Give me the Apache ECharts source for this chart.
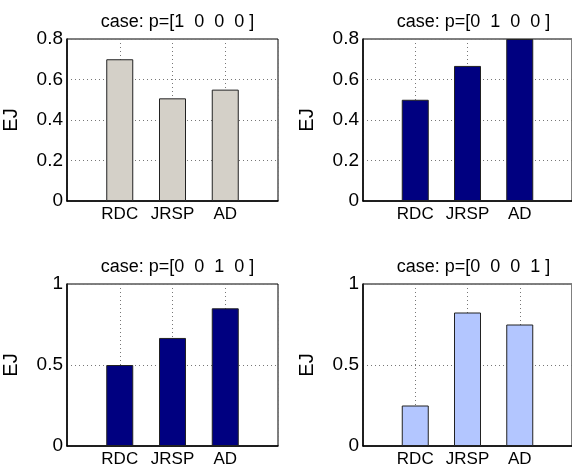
<!DOCTYPE html>
<html>
<head>
<meta charset="utf-8">
<title>EJ cases</title>
<script src="https://cdn.jsdelivr.net/npm/echarts@6/dist/echarts.min.js"></script>
<style>
  html, body { margin: 0; padding: 0; background: #fff; }
  #main { width: 572px; height: 472px; }
</style>
</head>
<body>
<div id="main"></div>
<script type="text/javascript">
// data
var categories = ['RDC', 'JRSP', 'AD'];
var caseTitles = ['case: p=[1  0  0  0 ]', 'case: p=[0  1  0  0 ]',
                  'case: p=[0  0  1  0 ]', 'case: p=[0  0  0  1 ]'];
var case1 = [0.70, 0.507, 0.55];
var case2 = [0.50, 0.667, 0.80];
var case3 = [0.50, 0.667, 0.85];
var case4 = [0.25, 0.824, 0.75];
var yMax = [0.8, 0.8, 1, 1];
var yStep = [0.2, 0.2, 0.5, 0.5];
var barColors = ['#d4d0c8', '#000080', '#000080', '#b3c6ff'];

var allCases = [case1, case2, case3, case4];
var font = 'Liberation Sans, Arial, Helvetica, sans-serif';

// panel boxes (left, top) in px; right column runs off the page edge
var boxes = [[67, 39], [363, 39], [67, 284], [363, 284]];
var boxW = 211, boxH = 162;

var myChart = echarts.init(document.getElementById('main'));

var option = {
    backgroundColor: '#fff',
    animation: false,
    title: [],
    grid: [],
    xAxis: [],
    yAxis: [],
    series: []
};

boxes.forEach(function (b, i) {
    var w = (i % 2 === 1) ? 216 : boxW;
    option.title.push({
        text: caseTitles[i],
        left: b[0] + boxW / 2,
        top: b[1] - 31,
        textAlign: 'center',
        textStyle: { fontFamily: font, fontSize: 18, fontWeight: 'normal', color: '#000' }
    });
    option.grid.push({
        left: b[0], top: b[1], width: w, height: boxH,
        show: true, borderColor: '#000', borderWidth: 1,
        backgroundColor: 'transparent'
    });
    option.xAxis.push({
        type: 'value', gridIndex: i, min: 0, max: 4, interval: 1,
        axisLine: { show: true, onZero: false, lineStyle: { color: '#000', width: 1.5 } },
        axisTick: { show: false },
        axisLabel: {
            fontFamily: font, fontSize: 17, color: '#000', margin: 5,
            showMinLabel: false, showMaxLabel: false,
            formatter: function (v) { return categories[v - 1] || ''; }
        },
        splitLine: { show: true, lineStyle: { color: '#777', type: [1, 3], width: 1 } }
    });
    option.yAxis.push({
        type: 'value', gridIndex: i, min: 0, max: yMax[i], interval: yStep[i],
        name: 'EJ', nameLocation: 'middle', nameGap: 46,
        nameTextStyle: { fontFamily: font, fontSize: 20, color: '#000' },
        axisLine: { show: true, lineStyle: { color: '#000', width: 1.5 } },
        axisTick: { show: false },
        axisLabel: { fontFamily: font, fontSize: 19, color: '#000', margin: 4 },
        splitLine: { show: true, lineStyle: { color: '#777', type: [1, 3], width: 1 } }
    });
    option.series.push({
        type: 'bar',
        xAxisIndex: i, yAxisIndex: i,
        barWidth: 27,
        itemStyle: { color: barColors[i], borderColor: '#222', borderWidth: 1 },
        data: allCases[i].map(function (v, k) { return [k + 1, v]; })
    });
});

myChart.setOption(option);
</script>
</body>
</html>
